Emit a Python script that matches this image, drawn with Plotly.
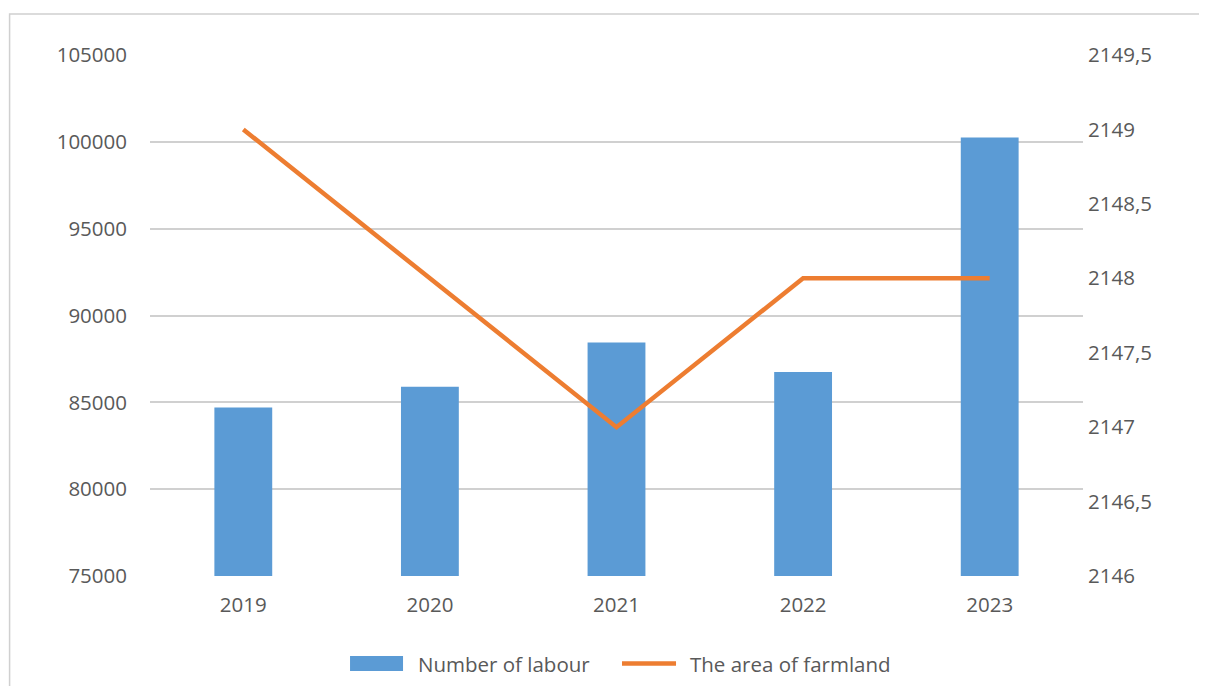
import plotly.graph_objects as go

years = ["2019", "2020", "2021", "2022", "2023"]
labour = [84700, 85900, 88450, 86750, 100250]
farmland = [2149, 2148, 2147, 2148, 2148]

left_ticks = [75000, 80000, 85000, 90000, 95000, 100000, 105000]
left_text = ["75000", "80000", "85000", "90000", "95000", "100000", "105000"]
right_ticks = [2146, 2146.5, 2147, 2147.5, 2148, 2148.5, 2149, 2149.5]
right_text = ["2146", "2146,5", "2147", "2147,5", "2148", "2148,5", "2149", "2149,5"]
series_names = ["Number of labour", "The area of farmland"]

FONT = "Open Sans"
TXT = "#595959"
BLUE = "#5B9BD5"
ORANGE = "#ED7D31"
FS = 20.5

fig = go.Figure()
fig.add_trace(go.Bar(x=years, y=labour, name=series_names[0],
                     marker=dict(color=BLUE, line=dict(width=0)), yaxis="y"))
fig.add_trace(go.Scatter(x=years, y=farmland, name=series_names[1], mode="lines",
                         line=dict(color=ORANGE, width=4.5), yaxis="y2"))

# manual legend (wide swatches like the reference)
ly0, ly1, lyc = -0.1536, -0.1823, -0.168
shapes = [
    dict(type="rect", xref="paper", yref="paper", x0=-0.1505, x1=1.3, y0=-0.5, y1=1.0787,
         line=dict(color="#D0D0D0", width=1.5), fillcolor="rgba(0,0,0,0)", layer="below"),
    dict(type="rect", xref="paper", yref="paper", x0=0.2144, x1=0.2712, y0=ly1, y1=ly0,
         line=dict(width=0), fillcolor=BLUE),
    dict(type="line", xref="paper", yref="paper", x0=0.5059, x1=0.5638, y0=lyc, y1=lyc,
         line=dict(color=ORANGE, width=4.5)),
]
annotations = [
    dict(xref="paper", yref="paper", x=0.2851, y=lyc, xanchor="left", yanchor="middle",
         text=series_names[0], showarrow=False, font=dict(family=FONT, size=FS, color=TXT)),
    dict(xref="paper", yref="paper", x=0.5766, y=lyc, xanchor="left", yanchor="middle",
         text=series_names[1], showarrow=False, font=dict(family=FONT, size=FS, color=TXT)),
]

fig.update_layout(
    width=1199, height=678,
    margin=dict(l=142, r=124, t=47, b=110),
    paper_bgcolor="white", plot_bgcolor="white",
    font=dict(family=FONT, size=FS, color=TXT),
    bargap=0.69,
    showlegend=False,
    xaxis=dict(type="category", range=[-0.5, 4.5], showgrid=False, zeroline=False,
               showline=False, ticks="", ticklabelstandoff=14,
               tickfont=dict(family=FONT, size=FS, color=TXT)),
    yaxis=dict(range=[75000, 105000], tickvals=left_ticks, ticktext=left_text,
               showgrid=True, gridcolor="#D0D0D0", gridwidth=1.5, zeroline=False,
               showline=False, ticks="", ticklabelstandoff=22,
               tickfont=dict(family=FONT, size=FS, color=TXT)),
    yaxis2=dict(range=[2146, 2149.5], tickvals=right_ticks, ticktext=right_text,
                overlaying="y", side="right", showgrid=False, zeroline=False,
                showline=False, ticks="", ticklabelstandoff=4,
                tickfont=dict(family=FONT, size=FS, color=TXT)),
    shapes=shapes,
    annotations=annotations,
)

fig.write_html("out.html")
